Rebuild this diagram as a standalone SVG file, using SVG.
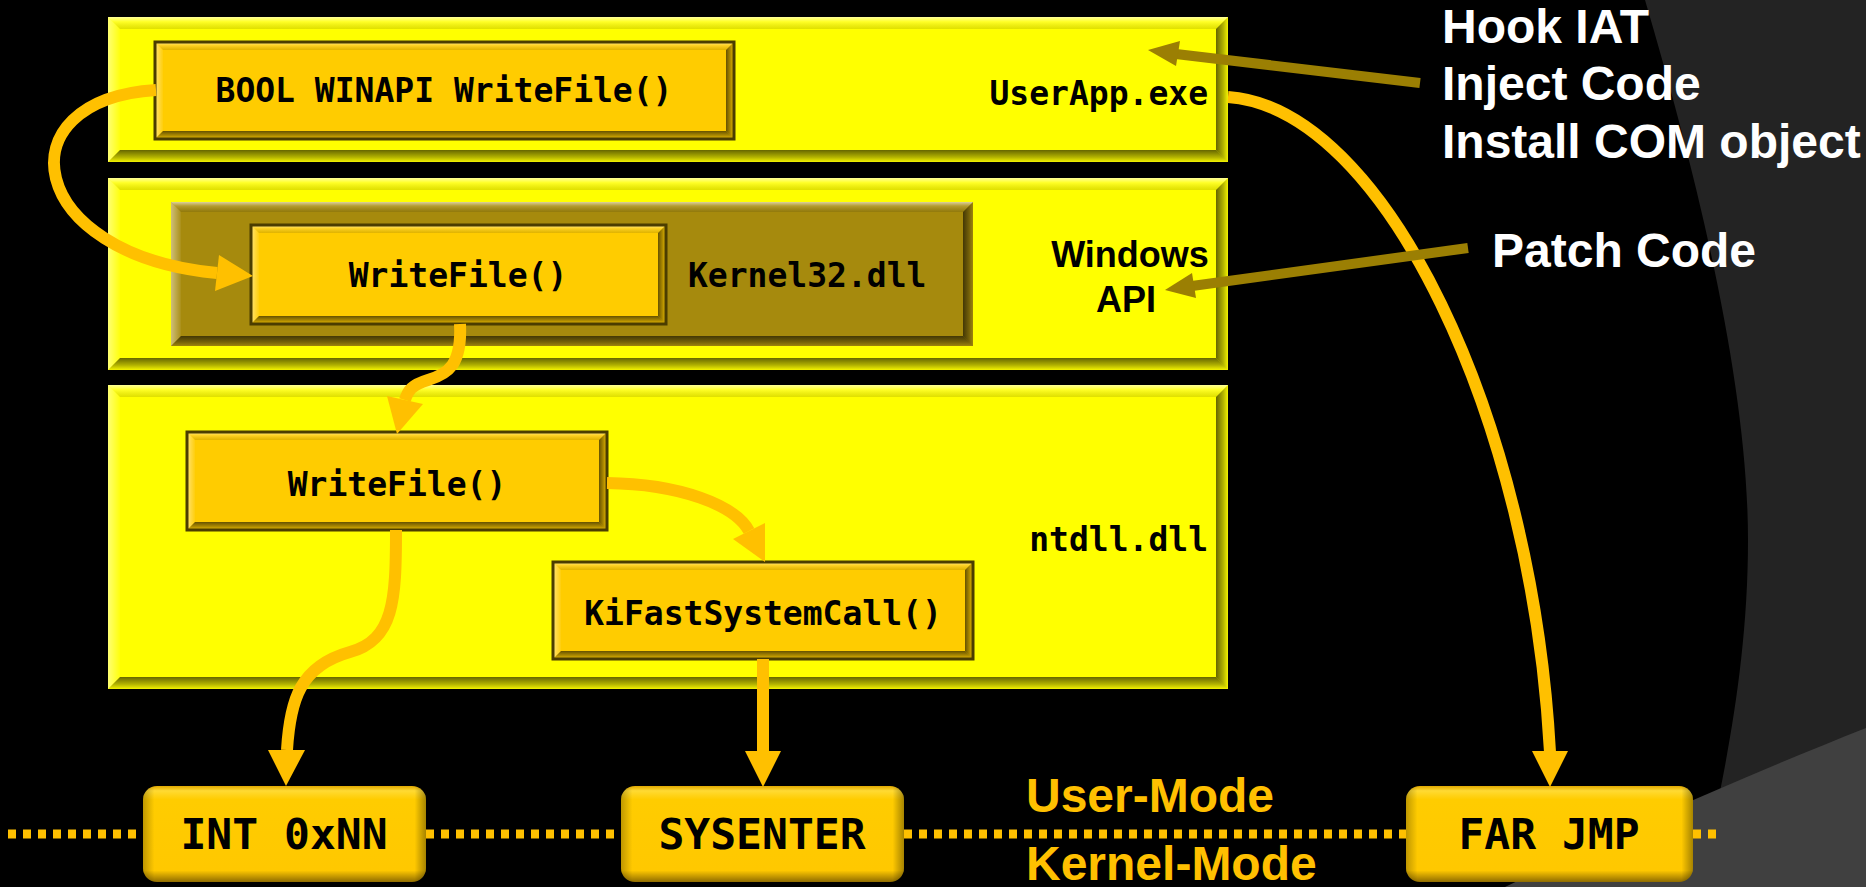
<svg xmlns="http://www.w3.org/2000/svg" width="1866" height="887" viewBox="0 0 1866 887">
<defs>
<style>
.panel{fill:#FFFF00}
.gold{fill:#FFCC00}
.olive{fill:#A68A0D}
.ol{fill:none;stroke:#4B3D00;stroke-width:3}
.bT{fill:url(#lt)}
.bL{fill:url(#ll)}
.bR{fill:url(#dr)}
.bB{fill:url(#db)}
.mono{font-family:"DejaVu Sans Mono","Liberation Mono",monospace;font-weight:bold;fill:#000}
.sans{font-family:"Liberation Sans",Arial,sans-serif;font-weight:bold}
.conn{fill:none;stroke:#FFC000;stroke-width:12}
.head{fill:#FFC000}
.ptr{fill:none;stroke:#9B7F03;stroke-width:10}
.ptrh{fill:#9B7F03}
.dots{fill:none;stroke:#FFC000;stroke-width:9;stroke-dasharray:8 7}
.rbox{fill:url(#bx)}
.rboxe{fill:url(#bxh)}
</style>
<linearGradient id="lt" x1="0" y1="0" x2="0" y2="1"><stop offset="0" stop-color="#fff" stop-opacity="0.6"/><stop offset="0.4" stop-color="#fff" stop-opacity="0.15"/><stop offset="1" stop-color="#000" stop-opacity="0.12"/></linearGradient>
<linearGradient id="ll" x1="0" y1="0" x2="1" y2="0"><stop offset="0" stop-color="#fff" stop-opacity="0.45"/><stop offset="1" stop-color="#fff" stop-opacity="0.05"/></linearGradient>
<linearGradient id="dr" x1="0" y1="0" x2="1" y2="0"><stop offset="0" stop-color="#000" stop-opacity="0.6"/><stop offset="0.6" stop-color="#000" stop-opacity="0.3"/><stop offset="1" stop-color="#000" stop-opacity="0.05"/></linearGradient>
<linearGradient id="db" x1="0" y1="0" x2="0" y2="1"><stop offset="0" stop-color="#000" stop-opacity="0.6"/><stop offset="0.6" stop-color="#000" stop-opacity="0.3"/><stop offset="1" stop-color="#000" stop-opacity="0.05"/></linearGradient>
<linearGradient id="bx" x1="0" y1="0" x2="0" y2="1"><stop offset="0" stop-color="#E0A800"/><stop offset="0.05" stop-color="#FFDA33"/><stop offset="0.14" stop-color="#FFCC00"/><stop offset="0.88" stop-color="#FFC800"/><stop offset="1" stop-color="#8F6C00"/></linearGradient>
<linearGradient id="bxh" x1="0" y1="0" x2="1" y2="0"><stop offset="0" stop-color="#000" stop-opacity="0.25"/><stop offset="0.04" stop-color="#000" stop-opacity="0"/><stop offset="0.96" stop-color="#000" stop-opacity="0"/><stop offset="1" stop-color="#000" stop-opacity="0.35"/></linearGradient>
</defs>

<g id="background">
<rect x="0" y="0" width="1866" height="887" fill="#000"/>
<path d="M1645,0 C1695,170 1748,380 1748,540 C1748,680 1718,800 1700,887 L1866,887 L1866,0 Z" fill="#232323"/>
<path d="M1866,728 C1760,770 1620,830 1505,887 L1866,887 Z" fill="#404040"/>
</g>

<g id="userapp">
<rect class="panel" x="108" y="17" width="1120" height="145"/>
<polygon class="bT" points="108,17 1228,17 1216,29 120,29"/>
<polygon class="bL" points="108,17 120,29 120,150 108,162"/>
<polygon class="bR" points="1228,17 1228,162 1216,150 1216,29"/>
<polygon class="bB" points="108,162 1228,162 1216,150 120,150"/>
<text class="mono" x="1208" y="105" font-size="33" text-anchor="end">UserApp.exe</text>
</g>

<g id="winapi">
<rect class="panel" x="108" y="178" width="1120" height="192"/>
<polygon class="bT" points="108,178 1228,178 1216,190 120,190"/>
<polygon class="bL" points="108,178 120,190 120,358 108,370"/>
<polygon class="bR" points="1228,178 1228,370 1216,358 1216,190"/>
<polygon class="bB" points="108,370 1228,370 1216,358 120,358"/>
<text class="sans" x="1130" y="267" font-size="36" text-anchor="middle" fill="#000">Windows</text>
<text class="sans" x="1126" y="312" font-size="36" text-anchor="middle" fill="#000">API</text>
</g>

<g id="ntdll">
<rect class="panel" x="108" y="385" width="1120" height="304"/>
<polygon class="bT" points="108,385 1228,385 1216,397 120,397"/>
<polygon class="bL" points="108,385 120,397 120,677 108,689"/>
<polygon class="bR" points="1228,385 1228,689 1216,677 1216,397"/>
<polygon class="bB" points="108,689 1228,689 1216,677 120,677"/>
<text class="mono" x="1208" y="551" font-size="33" text-anchor="end">ntdll.dll</text>
</g>

<g id="bool-writefile">
<rect class="gold" x="155" y="42" width="579" height="97"/>
<polygon class="bT" points="155,42 734,42 726,50 163,50"/>
<polygon class="bL" points="155,42 163,50 163,131 155,139"/>
<polygon class="bR" points="734,42 734,139 726,131 726,50"/>
<polygon class="bB" points="155,139 734,139 726,131 163,131"/>
<rect class="ol" x="155" y="42" width="579" height="97"/>
<text class="mono" x="444" y="102" font-size="33" text-anchor="middle">BOOL WINAPI WriteFile()</text>
</g>

<g id="kernel32">
<rect class="olive" x="171" y="202" width="802" height="144"/>
<polygon class="bT" points="171,202 973,202 963,212 181,212"/>
<polygon class="bL" points="171,202 181,212 181,336 171,346"/>
<polygon class="bR" points="973,202 973,346 963,336 963,212"/>
<polygon class="bB" points="171,346 973,346 963,336 181,336"/>
<text class="mono" x="688" y="287" font-size="33">Kernel32.dll</text>
</g>

<g id="k32-writefile">
<rect class="gold" x="251" y="225" width="415" height="99"/>
<polygon class="bT" points="251,225 666,225 658,233 259,233"/>
<polygon class="bL" points="251,225 259,233 259,316 251,324"/>
<polygon class="bR" points="666,225 666,324 658,316 658,233"/>
<polygon class="bB" points="251,324 666,324 658,316 259,316"/>
<rect class="ol" x="251" y="225" width="415" height="99"/>
<text class="mono" x="458" y="287" font-size="33" text-anchor="middle">WriteFile()</text>
</g>

<g id="ntdll-writefile">
<rect class="gold" x="187" y="432" width="420" height="98"/>
<polygon class="bT" points="187,432 607,432 599,440 195,440"/>
<polygon class="bL" points="187,432 195,440 195,522 187,530"/>
<polygon class="bR" points="607,432 607,530 599,522 599,440"/>
<polygon class="bB" points="187,530 607,530 599,522 195,522"/>
<rect class="ol" x="187" y="432" width="420" height="98"/>
<text class="mono" x="397" y="496" font-size="33" text-anchor="middle">WriteFile()</text>
</g>

<g id="kifastsystemcall">
<rect class="gold" x="553" y="562" width="420" height="97"/>
<polygon class="bT" points="553,562 973,562 965,570 561,570"/>
<polygon class="bL" points="553,562 561,570 561,651 553,659"/>
<polygon class="bR" points="973,562 973,659 965,651 965,570"/>
<polygon class="bB" points="553,659 973,659 965,651 561,651"/>
<rect class="ol" x="553" y="562" width="420" height="97"/>
<text class="mono" x="763" y="625" font-size="33" text-anchor="middle">KiFastSystemCall()</text>
</g>

<g id="mode-line">
<path class="dots" d="M8,834 H143 M426,834 H621 M904,834 H1406 M1693,834 H1718"/>
<text class="sans" x="1026" y="812" font-size="48" fill="#FFC000">User-Mode</text>
<text class="sans" x="1026" y="880" font-size="48" fill="#FFC000">Kernel-Mode</text>
</g>

<g id="int">
<rect class="rbox" x="143" y="786" width="283" height="96" rx="14"/>
<rect class="rboxe" x="143" y="786" width="283" height="96" rx="14"/>
<text class="mono" x="284" y="849" font-size="43" text-anchor="middle">INT 0xNN</text>
</g>

<g id="sysenter">
<rect class="rbox" x="621" y="786" width="283" height="96" rx="14"/>
<rect class="rboxe" x="621" y="786" width="283" height="96" rx="14"/>
<text class="mono" x="762" y="849" font-size="43" text-anchor="middle">SYSENTER</text>
</g>

<g id="farjmp">
<rect class="rbox" x="1406" y="786" width="287" height="96" rx="14"/>
<rect class="rboxe" x="1406" y="786" width="287" height="96" rx="14"/>
<text class="mono" x="1549" y="849" font-size="43" text-anchor="middle">FAR JMP</text>
</g>

<g id="labels">
<text class="sans" x="1442" y="43" font-size="48" fill="#fff">Hook IAT</text>
<text class="sans" x="1442" y="100" font-size="48" fill="#fff">Inject Code</text>
<text class="sans" x="1442" y="158" font-size="48" fill="#fff">Install COM object</text>
<text class="sans" x="1492" y="267" font-size="48" fill="#fff">Patch Code</text>
</g>

<g id="connectors">
<path class="conn" d="M156,90 C0,100 25,255 217,273"/>
<polygon class="head" points="253,276 219,255 215,291"/>
<path class="conn" d="M460,324 C462,365 448,374 428,380 C412,385 408,390 405,400"/>
<polygon class="head" points="397,434 387,396 423,404"/>
<path class="conn" d="M607,483 C680,484 735,505 749,531"/>
<polygon class="head" points="765,562 765,523 733,539"/>
<path class="conn" d="M396,530 C396,600 394,640 350,652 C300,666 290,700 287,750"/>
<polygon class="head" points="286,786 268,750 305,750"/>
<path class="conn" d="M763,659 V752"/>
<polygon class="head" points="763,787 745,751 781,751"/>
<path class="conn" d="M1228,97 C1385,108 1532,420 1550,752"/>
<polygon class="head" points="1550,787 1532,751 1568,751"/>
<path class="ptr" d="M1420,83 L1176,54"/>
<polygon class="ptrh" points="1148,50 1180,41 1176,66"/>
<path class="ptr" d="M1468,248 L1192,286"/>
<polygon class="ptrh" points="1165,290 1192,273 1196,298"/>
</g>
</svg>
